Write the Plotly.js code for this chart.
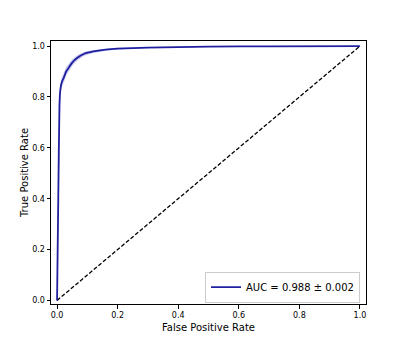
<!DOCTYPE html>
<html>
<head>
<meta charset="utf-8">
<script src="https://cdn.plot.ly/plotly-3.0.1.min.js"></script>
<style>
  body { margin: 0; background: #fff; }
  #roc { width: 407px; height: 349px; }
</style>
</head>
<body>
<div id="roc"></div>
<script>
// mean ROC curve
let meanFpr = [0, 0.004, 0.008, 0.011, 0.016, 0.022, 0.03, 0.038, 0.05, 0.066, 0.09, 0.12, 0.16, 0.2, 0.3, 0.4, 0.5, 0.7, 1.0];
let meanTpr = [0, 0.40, 0.77, 0.83, 0.86, 0.875, 0.90, 0.914, 0.935, 0.953, 0.97, 0.979, 0.986, 0.99, 0.994, 0.996, 0.998, 0.999, 1.0];
// +/- 1 std band
let tprUpper = [0, 0.44, 0.80, 0.85, 0.88, 0.895, 0.918, 0.93, 0.948, 0.964, 0.978, 0.985, 0.99, 0.993, 0.996, 0.998, 0.999, 1.0, 1.0];
let tprLower = [0, 0.36, 0.74, 0.81, 0.84, 0.855, 0.882, 0.898, 0.922, 0.942, 0.962, 0.973, 0.982, 0.987, 0.992, 0.994, 0.997, 0.998, 1.0];
let chanceLine = [0, 1];
let aucLabel = 'AUC = 0.988 ± 0.002';

let graph = document.getElementById('roc');

let data = [{
    x: meanFpr,
    y: tprUpper,
    mode: 'lines',
    line: {width: 0, color: 'rgba(0,0,0,0)'},
    showlegend: false,
    hoverinfo: 'skip'
}, {
    x: meanFpr,
    y: tprLower,
    mode: 'lines',
    fill: 'tonexty',
    fillcolor: 'rgba(110,110,210,0.35)',
    line: {width: 0, color: 'rgba(0,0,0,0)'},
    showlegend: false,
    hoverinfo: 'skip'
}, {
    x: chanceLine,
    y: chanceLine,
    mode: 'lines',
    line: {color: 'black', width: 1.3, dash: '4px,2px'},
    showlegend: false
}, {
    x: meanFpr,
    y: meanTpr,
    mode: 'lines',
    name: aucLabel,
    line: {color: 'rgba(10,10,150,0.9)', width: 1.8, shape: 'spline', smoothing: 0.4}
}];

let axisStyle = {
    showgrid: false,
    zeroline: false,
    showline: true,
    mirror: true,
    linecolor: 'black',
    linewidth: 1,
    ticks: 'outside',
    ticklen: 3.5,
    tickcolor: 'black',
    tickfont: {size: 8, color: 'black'},
    tickformat: '.1f',
    dtick: 0.2
};

let layout = {
    width: 407,
    height: 349,
    margin: {l: 51, r: 41, t: 41, b: 45},
    paper_bgcolor: 'white',
    plot_bgcolor: 'white',
    font: {family: 'DejaVu Sans, sans-serif', color: 'black'},
    xaxis: Object.assign({}, axisStyle, {
        range: [-0.02, 1.02],
        title: {text: 'False Positive Rate', font: {size: 10}, standoff: 4}
    }),
    yaxis: Object.assign({}, axisStyle, {
        range: [-0.014, 1.02],
        title: {text: 'True Positive Rate', font: {size: 10}, standoff: 1}
    }),
    legend: {
        x: 0.981,
        y: 0.005,
        xanchor: 'right',
        yanchor: 'bottom',
        bgcolor: 'white',
        bordercolor: '#cccccc',
        borderwidth: 1,
        font: {size: 10}
    },
    showlegend: true
};

Plotly.newPlot(graph, data, layout, {displayModeBar: false, staticPlot: true});
</script>
</body>
</html>
